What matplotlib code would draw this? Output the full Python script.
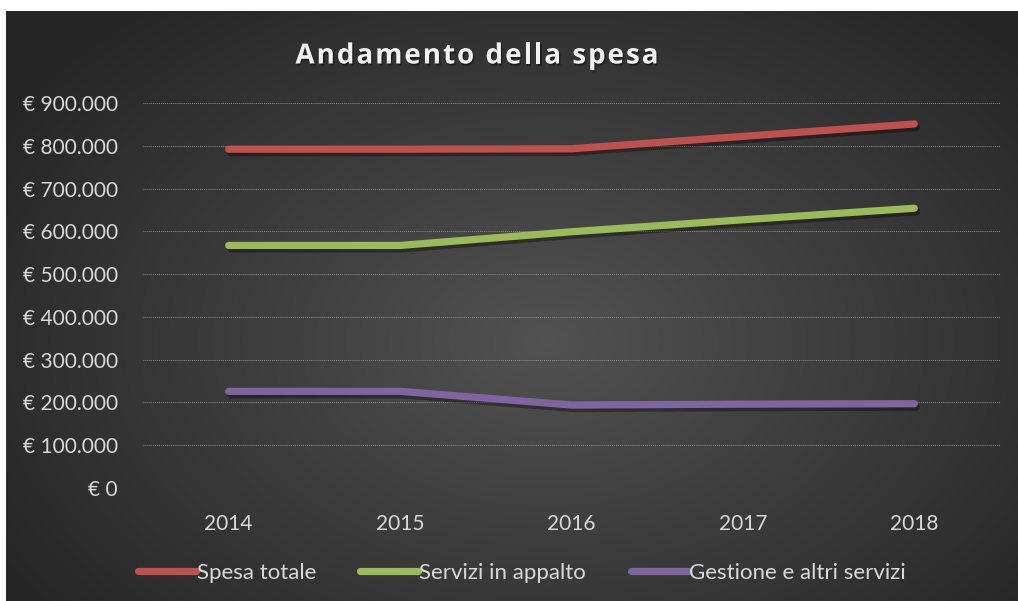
import matplotlib
matplotlib.use("Agg")
import matplotlib.pyplot as plt
import matplotlib.patheffects as pe
import numpy as np
from matplotlib.ticker import FuncFormatter

anni = ["2014", "2015", "2016", "2017", "2018"]
spesa_totale = [792000, 792000, 793000, 822000, 851000]
servizi_appalto = [567000, 567000, 599000, 627000, 654000]
gestione_altri = [226000, 226000, 194000, 196000, 197000]

serie = ["Spesa totale", "Servizi in appalto", "Gestione e altri servizi"]
colori = ["#c0504d", "#9bbb59", "#8064a2"]
titolo = "Andamento della spesa"

plt.rcParams["font.family"] = ["Lato", "DejaVu Sans"]

fig = plt.figure(figsize=(10.18, 6.01), dpi=100)
fig.patch.set_facecolor("white")
W, H = 1018, 601

# sfondo con gradiente radiale
bg = fig.add_axes([6 / W, 0, 1012 / W, 590 / H])
h, w = 590, 1012
yy, xx = np.mgrid[0:h, 0:w]
cx, cy = 540, 330
d = np.sqrt(((xx - cx) / 640) ** 2 + ((yy - cy) / 430) ** 2)
d = np.clip(d, 0, 1)
val = 0.32 - 0.17 * d
img = np.dstack([val, val, val])
bg.imshow(img, aspect="auto", interpolation="bilinear")
bg.set_axis_off()

ax = fig.add_axes([143 / W, 113 / H, 857 / W, 385 / H])
ax.set_facecolor("none")

x = np.arange(len(anni))
for valori, nome, col in zip([spesa_totale, servizi_appalto, gestione_altri], serie, colori):
    ax.plot(x, valori, color=col, lw=5.2, solid_capstyle="round", label=nome,
            path_effects=[pe.SimpleLineShadow(offset=(1.5, -2.5), alpha=0.35, shadow_color="black"),
                          pe.Normal()])

ax.set_xlim(-0.5, len(anni) - 0.5)
ax.set_ylim(0, 900000)
ax.set_yticks(np.arange(0, 900001, 100000))
ax.yaxis.set_major_formatter(FuncFormatter(lambda v, p: "€ " + f"{int(v):,}".replace(",", ".")))
ax.set_xticks(x)
ax.set_xticklabels(anni)
ax.grid(axis="y", color="#8c8c8c", linestyle=(0, (1, 1)), linewidth=0.7)
ax.set_axisbelow(True)
for s in ax.spines.values():
    s.set_visible(False)
ax.tick_params(axis="both", length=0, colors="#d9d9d9", labelsize=15)
ax.tick_params(axis="y", pad=18)
ax.tick_params(axis="x", pad=19)

# titolo spaziato, lettera per lettera
renderer = fig.canvas.get_renderer()
kw = dict(fontsize=20, fontweight="bold", color="#f2f2f2", family=["Open Sans", "DejaVu Sans"])


def larghezza(s):
    t = fig.text(0, 0, s, **kw)
    bb = t.get_window_extent(renderer)
    t.remove()
    return bb.width


larg = []
for c in titolo:
    if c == " ":
        larg.append(larghezza("a a") - larghezza("aa"))
    else:
        larg.append(larghezza(c))
target = 363
spazio = (target - sum(larg)) / (len(titolo) - 1)
xpos = 477 - target / 2
for c, lw_ in zip(titolo, larg):
    if c != " ":
        fig.text(xpos / W, 1 - 56 / H, c, ha="left", va="center", **kw,
                 path_effects=[pe.withSimplePatchShadow(offset=(1, -1.5), alpha=0.4,
                                                         shadow_rgbFace="black")])
    xpos += lw_ + spazio

leg = fig.legend(loc="center", bbox_to_anchor=(522 / W, 1 - 573 / H), ncol=3, frameon=False,
                 handlelength=2.6, handletextpad=0.05, columnspacing=2.0, fontsize=16)
for t in leg.get_texts():
    t.set_color("#d9d9d9")
for l in leg.get_lines():
    l.set_linewidth(5.2)
    l.set_path_effects([])

fig.savefig("out.png", dpi=100, facecolor="white")
